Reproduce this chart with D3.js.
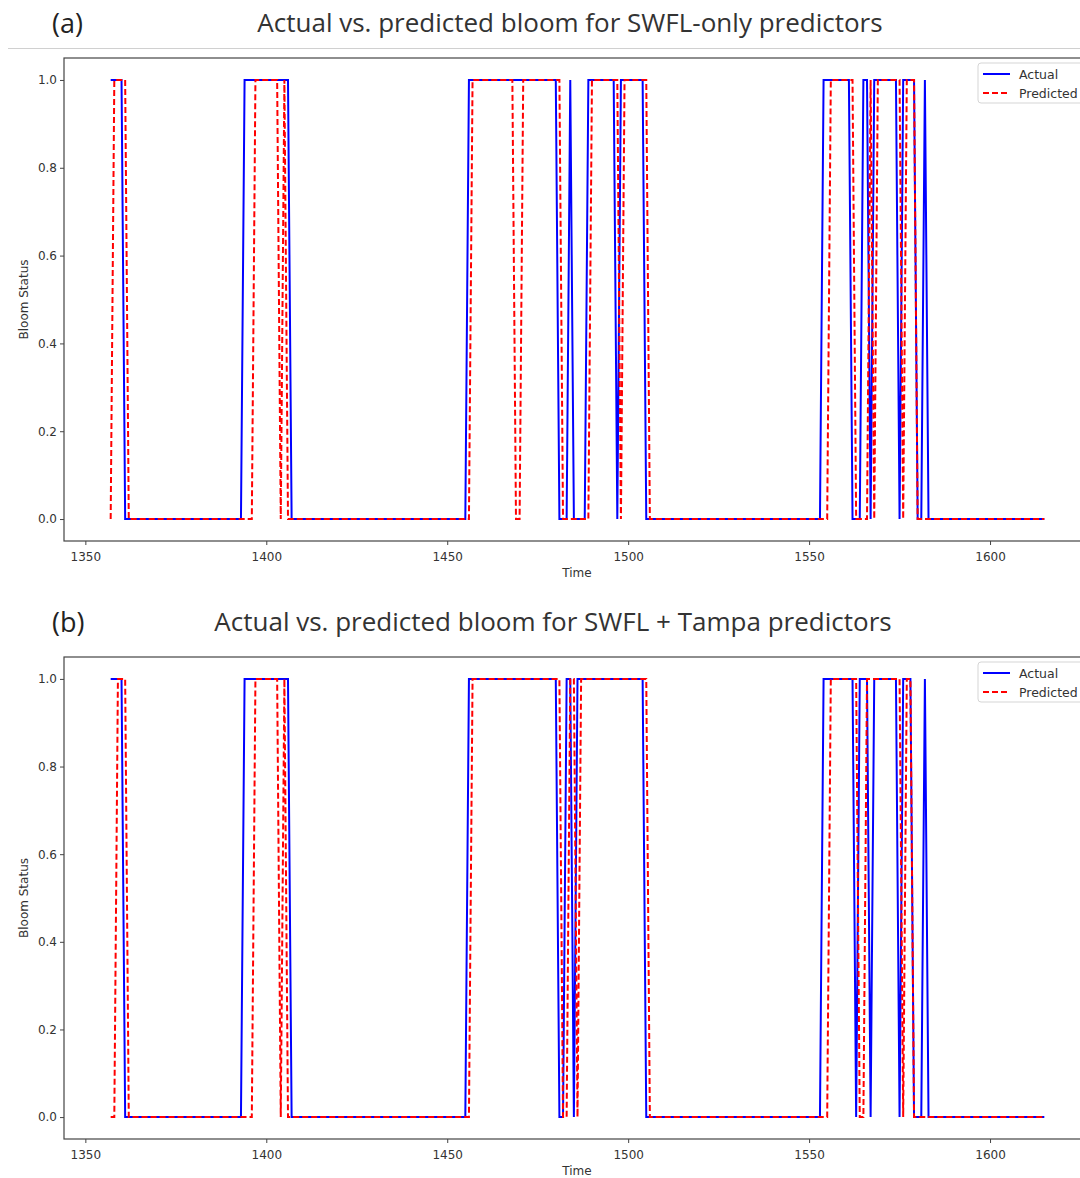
<!DOCTYPE html>
<html>
<head>
<meta charset="utf-8">
<script src="https://cdn.jsdelivr.net/npm/d3@7"></script>
<style>
  body { margin: 0; background: white; }
  svg { display: block; }
</style>
</head>
<body>
<div id="chart"></div>
<script>
"use strict"

// time steps of the test period
const timeStart = 1357;
const timeEnd = 1615;

// bloom (=1) intervals, inclusive [from, to]
const actualA = [[1357, 1360], [1394, 1406], [1456, 1480], [1484, 1484], [1489, 1496], [1498, 1504],
  [1554, 1561], [1565, 1566], [1568, 1574], [1576, 1579], [1582, 1582]];
const predictedA = [[1358, 1361], [1397, 1403], [1405, 1405], [1457, 1468], [1471, 1481], [1490, 1497],
  [1499, 1505], [1556, 1562], [1567, 1567], [1569, 1575], [1577, 1579]];

const actualB = [[1357, 1360], [1394, 1406], [1456, 1480], [1483, 1484], [1486, 1504],
  [1554, 1562], [1564, 1566], [1568, 1574], [1576, 1578], [1582, 1582]];
const predictedB = [[1359, 1361], [1397, 1403], [1405, 1405], [1457, 1481], [1484, 1485], [1487, 1505],
  [1556, 1563], [1566, 1575], [1577, 1578]];

const xTicks = [1350, 1400, 1450, 1500, 1550, 1600];
const yTicks = [0.0, 0.2, 0.4, 0.6, 0.8, 1.0];

const panels = [
  { label: "(a)", title: "Actual vs. predicted bloom for SWFL-only predictors", actual: actualA, predicted: predictedA,
    top: 58, bottom: 541, titleY: 32, titleX: 570 },
  { label: "(b)", title: "Actual vs. predicted bloom for SWFL + Tampa predictors", actual: actualB, predicted: predictedB,
    top: 657, bottom: 1139, titleY: 631, titleX: 553 }
];

const width = 1080, height = 1178;
const left = 64, right = 1091;

function toSeries(intervals) {
  let out = [];
  for (let t = timeStart; t <= timeEnd; t++) {
    let on = intervals.some(d => t >= d[0] && t <= d[1]);
    out.push({ t: t, v: on ? 1 : 0 });
  }
  return out;
}

let svg = d3.select("#chart").append("svg")
  .attr("width", width)
  .attr("height", height)
  .style("background", "white");

// separator under the first title
svg.append("line")
  .attr("x1", 8).attr("x2", width)
  .attr("y1", 48.5).attr("y2", 48.5)
  .style("stroke", "#d0d0d0")
  .style("stroke-width", 1);

let x = d3.scaleLinear()
  .domain([timeStart - 0.05 * (timeEnd - timeStart), timeEnd + 0.05 * (timeEnd - timeStart)])
  .range([left, right]);

panels.forEach(function(p, i) {
  let y = d3.scaleLinear()
    .domain([-0.05, 1.05])
    .range([p.bottom, p.top]);

  svg.append("text")
    .attr("x", 52).attr("y", p.titleY + 1)
    .style("font-family", "'Open Sans', 'Noto Sans', sans-serif")
    .style("font-size", "27px")
    .style("fill", "#222")
    .text(p.label);

  svg.append("text")
    .attr("x", p.titleX).attr("y", p.titleY)
    .attr("text-anchor", "middle")
    .style("font-family", "'Open Sans', 'Noto Sans', sans-serif")
    .style("font-size", "26px")
    .style("fill", "#333")
    .text(p.title);

  svg.append("clipPath")
    .attr("id", "clip" + i)
    .append("rect")
    .attr("x", left).attr("y", p.top)
    .attr("width", right - left).attr("height", p.bottom - p.top);

  let xAxis = svg.append("g")
    .attr("transform", "translate(0," + p.bottom + ")")
    .call(d3.axisBottom(x).tickValues(xTicks).tickFormat(d3.format("d")).tickSizeInner(4).tickSizeOuter(0));

  let yAxis = svg.append("g")
    .attr("transform", "translate(" + left + ",0)")
    .call(d3.axisLeft(y).tickValues(yTicks).tickFormat(d3.format(".1f")).tickSizeInner(4).tickSizeOuter(0));

  [xAxis, yAxis].forEach(function(a) {
    a.select(".domain").remove();
    a.selectAll("line").style("stroke", "#444");
    a.selectAll("text")
      .style("font-family", "'DejaVu Sans', sans-serif")
      .style("font-size", "12px")
      .style("fill", "#333");
  });
  xAxis.selectAll("text").attr("dy", "1.1em");

  // frame
  svg.append("rect")
    .attr("x", left).attr("y", p.top)
    .attr("width", right - left).attr("height", p.bottom - p.top)
    .style("fill", "none")
    .style("stroke", "#444")
    .style("stroke-width", 1.2);

  svg.append("text")
    .attr("x", 577).attr("y", p.bottom + 36)
    .attr("text-anchor", "middle")
    .style("font-family", "'DejaVu Sans', sans-serif")
    .style("font-size", "12px")
    .style("fill", "#333")
    .text("Time");

  svg.append("text")
    .attr("transform", "translate(28," + ((p.top + p.bottom) / 2) + ") rotate(-90)")
    .attr("text-anchor", "middle")
    .style("font-family", "'DejaVu Sans', sans-serif")
    .style("font-size", "12px")
    .style("fill", "#333")
    .text("Bloom Status");

  let line = d3.line()
    .x(d => x(d.t))
    .y(d => y(d.v));

  let plot = svg.append("g").attr("clip-path", "url(#clip" + i + ")");

  plot.append("path")
    .datum(toSeries(p.actual))
    .attr("d", line)
    .style("fill", "none")
    .style("stroke", "#0000ff")
    .style("stroke-width", 2);

  plot.append("path")
    .datum(toSeries(p.predicted))
    .attr("d", line)
    .style("fill", "none")
    .style("stroke", "#ff0000")
    .style("stroke-width", 2)
    .style("stroke-dasharray", "6,3");

  // legend
  let lg = svg.append("g").attr("transform", "translate(978," + (p.top + 5) + ")");
  lg.append("rect")
    .attr("x", 0).attr("y", 0)
    .attr("width", 120).attr("height", 40)
    .attr("rx", 3)
    .style("fill", "white")
    .style("stroke", "#d5d5d5");
  [["Actual", "#0000ff", null], ["Predicted", "#ff0000", "6,3"]].forEach(function(e, k) {
    let yy = 11 + k * 19;
    lg.append("line")
      .attr("x1", 5).attr("x2", 32)
      .attr("y1", yy).attr("y2", yy)
      .style("stroke", e[1])
      .style("stroke-width", 2)
      .style("stroke-dasharray", e[2]);
    lg.append("text")
      .attr("x", 41).attr("y", yy + 4.5)
      .style("font-family", "'DejaVu Sans', sans-serif")
      .style("font-size", "12.5px")
      .style("fill", "#333")
      .text(e[0]);
  });
});
</script>
</body>
</html>
